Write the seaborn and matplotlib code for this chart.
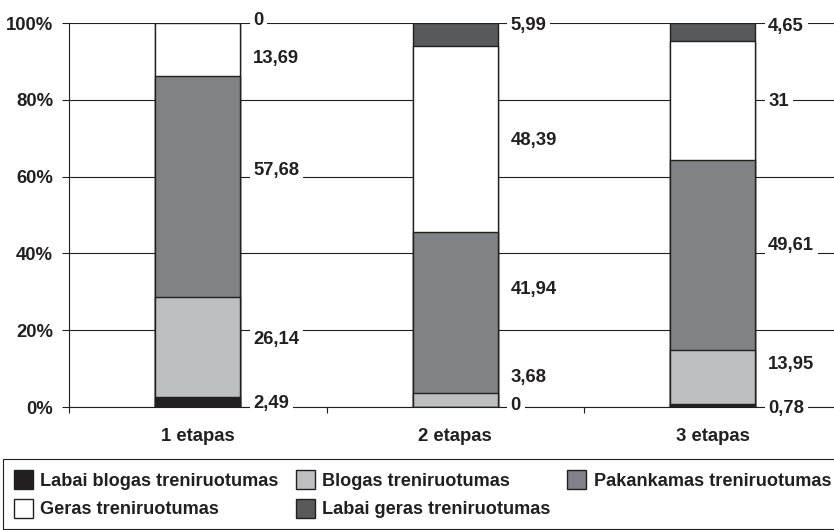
import numpy as np
import pandas as pd
import matplotlib
matplotlib.use("Agg")
import matplotlib.pyplot as plt
from matplotlib.patches import Patch
from matplotlib.ticker import FixedLocator
import seaborn as sns

# Data: share of athletes (%) by training level at each stage
stages = ["1 etapas", "2 etapas", "3 etapas"]
levels = [
    "Labai blogas treniruotumas",
    "Blogas treniruotumas",
    "Pakankamas treniruotumas",
    "Geras treniruotumas",
    "Labai geras treniruotumas",
]
labai_blogas = [2.49, 0, 0.78]
blogas = [26.14, 3.68, 13.95]
pakankamas = [57.68, 41.94, 49.61]
geras = [13.69, 48.39, 31]
labai_geras = [0, 5.99, 4.65]
y_ticks = [0, 20, 40, 60, 80, 100]

# Vertical placement (percent) of the value labels, bottom segment first
label_pos = [
    [1.56, 18.2, 62.2, 91.4, 101.3],
    [1.0, 8.1, 31.0, 69.8, 100.0],
    [0.26, 11.7, 42.7, 80.0, 99.7],
]

colors = ["#231f20", "#bcbec0", "#808285", "#ffffff", "#58595b"]
ink = "#231f20"
fs = 13.3
fs_leg = 13.1

sns.set_style("ticks")
plt.rcParams["font.family"] = ["Liberation Sans", "DejaVu Sans"]
plt.rcParams["font.weight"] = "bold"

fig = plt.figure(figsize=(8.34, 5.30), dpi=100)
ax = fig.add_axes([69 / 834, 123 / 530, 772.5 / 834, 384 / 530])

series = [labai_blogas, blogas, pakankamas, geras, labai_geras]
cum = np.cumsum(np.array(series, dtype=float), axis=0)

# Stack by overlaying cumulative bars, tallest first
for k in reversed(range(len(series))):
    df = pd.DataFrame({"etapas": stages, "proc": cum[k]})
    sns.barplot(data=df, x="etapas", y="proc", color=colors[k], saturation=1,
                width=0.33, edgecolor=ink, linewidth=1.0, errorbar=None,
                ax=ax, zorder=2)

def fmt(v):
    return f"{v:g}".replace(".", ",")

half = 0.33 / 2
gap = 13 / 257.5
for i in range(len(stages)):
    for k in range(len(series)):
        ax.text(i + half + gap, label_pos[i][k], fmt(series[k][i]),
                ha="left", va="center_baseline", fontsize=fs,
                fontweight="bold", color=ink, zorder=4,
                bbox=dict(boxstyle="square,pad=0.2", fc="white", ec="none"))

ax.set_xlim(-0.5, 2.5)
ax.set_ylim(0, 100)
ax.set_xlabel("")
ax.set_ylabel("")

ax.set_xticks(range(len(stages)))
ax.set_xticklabels(stages, fontsize=fs, fontweight="bold", color=ink)
ax.xaxis.set_minor_locator(FixedLocator([-0.5, 0.5, 1.5, 2.5]))
ax.tick_params(axis="x", which="major", length=0, pad=15)
ax.tick_params(axis="x", which="minor", length=4.5, width=0.8,
               color=ink, direction="out")

ax.set_yticks(y_ticks)
ax.set_yticklabels([f"{t}%" for t in y_ticks], fontsize=fs,
                   fontweight="bold", color=ink)
ax.tick_params(axis="y", length=5, width=0.8, pad=6.5, color=ink,
               direction="out")

ax.yaxis.grid(True, color=ink, linewidth=0.8)
ax.set_axisbelow(True)
for side in ["top", "right"]:
    ax.spines[side].set_visible(False)
for side in ["left", "bottom"]:
    ax.spines[side].set_color(ink)
    ax.spines[side].set_linewidth(0.8)
    ax.spines[side].set_zorder(3)

handles = [Patch(facecolor=c, edgecolor=ink, linewidth=1.0) for c in colors]
order = [0, 3, 1, 4, 2]
leg = fig.legend([handles[j] for j in order], [levels[j] for j in order],
                 loc="upper left", bbox_to_anchor=(3 / 834, 1 - 459 / 530),
                 bbox_transform=fig.transFigure, ncol=3, frameon=True,
                 fancybox=False, edgecolor=ink, framealpha=1,
                 prop={"size": fs_leg, "weight": "bold"},
                 handlelength=1.05, handleheight=1.25, handletextpad=0.4,
                 columnspacing=0.93, labelspacing=0.5, borderpad=0.6,
                 borderaxespad=0)
leg.get_frame().set_linewidth(0.8)
for t in leg.get_texts():
    t.set_color(ink)

fig.savefig("out.png", dpi=100)
